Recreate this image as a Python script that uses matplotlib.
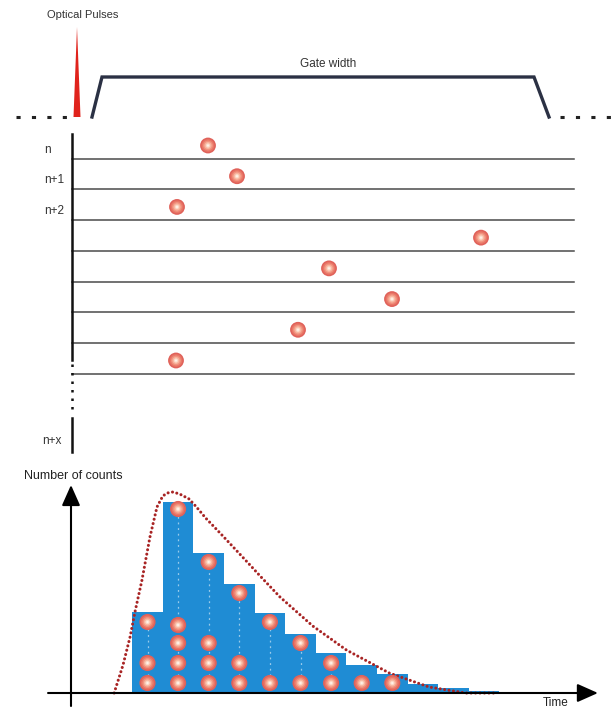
import numpy as np
import matplotlib
matplotlib.use('Agg')
import matplotlib.pyplot as plt

plt.rcParams['font.family'] = ['Liberation Sans', 'DejaVu Sans']

# --- top panel: laser pulse and detector gate (time in a.u., amplitude in a.u.)
pulse_time = 77
pulse_height = 2.25
pulse_halfwidth = 3.5
gate_time = [92, 102, 534, 549]
gate_level = [0, 1, 1, 0]
dash_left = [16, 67]
dash_right = [560, 614]

# --- middle panel: one detected photon per excitation period
period_labels = ['n', 'n+1', 'n+2']
photon_times = [208, 237, 177, 481, 329, 392, 298, 176]
n_periods = len(photon_times)

# --- bottom panel: histogram of arrival times
bin_start = 2
counts = [4.05, 9.55, 7.0, 5.45, 4.0, 2.95, 2.0, 1.4, 0.95, 0.45, 0.25, 0.1]
# photons drawn inside the bars (bin index, level)
dot_bin = [0, 0, 0, 1, 1, 1, 1, 1, 2, 2, 2, 2, 3, 3, 3, 4, 4, 5, 5, 6, 6, 7, 8]
dot_level = [0.5, 1.5, 3.55, 0.5, 1.5, 2.5, 3.4, 9.2, 0.5, 1.5, 2.5, 6.55,
             0.5, 1.5, 5.0, 0.5, 3.55, 0.5, 2.5, 0.5, 1.5, 0.5, 0.5]
# decay curve
curve_t = [1.41, 1.7, 1.93, 2.09, 2.32, 2.58, 2.81, 3.0, 3.15, 3.33, 3.55, 3.86,
           4.1, 4.4, 4.87, 5.3, 5.88, 6.18, 6.83, 7.9, 9.0, 10.4, 11.7, 12.9, 13.9]
curve_c = [0.0, 1.4, 2.8, 4.05, 5.65, 7.8, 9.3, 9.85, 10.0, 10.05, 9.95, 9.7,
           9.3, 8.75, 8.0, 7.3, 6.35, 5.85, 4.8, 3.35, 2.15, 1.0, 0.3, 0.0, 0.0]

photon_layers = [(1.0, '#e0625a'), (0.8, '#e97767'), (0.62, '#f1937f'),
                 (0.45, '#f8b59e'), (0.28, '#fcd9c6'), (0.14, '#fff1e8')]


def photon(ax, x, y, size=120):
    for frac, col in photon_layers:
        ax.scatter(x, y, s=size * frac**2, color=col, edgecolors='none', zorder=5)


fig = plt.figure(figsize=(6.16, 7.08), dpi=100)

# top
ax1 = fig.add_axes([0, 578 / 708, 1, 130 / 708])
ax1.set_xlim(0, 616)
ax1.set_ylim(-0.325, 2.925)
ax1.axis('off')
ax1.fill([pulse_time - pulse_halfwidth, pulse_time, pulse_time + pulse_halfwidth],
         [0, pulse_height, 0], color='#e0231c', lw=0)
ax1.plot(gate_time, gate_level, color='#2b3144', lw=2.4, solid_joinstyle='miter')
for seg in (dash_left, dash_right):
    ax1.plot(seg, [0, 0], color='#222222', lw=2.2, linestyle=(0, (1.35, 3.7)))
ax1.text(83, 2.55, 'Optical Pulses', ha='center', va='center', fontsize=8, color='#333333')
ax1.text(328, 1.33, 'Gate width', ha='center', va='center', fontsize=8.5, color='#333333')

# middle
ax2 = fig.add_axes([0, 248 / 708, 1, 330 / 708])
ax2.set_xlim(0, 616)
ax2.set_ylim(10.81, 0.065)
ax2.axis('off')
for k in range(n_periods):
    ax2.plot([72, 574], [k + 1, k + 1], color='#4a4a4a', lw=1.1)
photon(ax2, photon_times, np.arange(n_periods) + 0.57, size=130)
ax2.plot([72, 72], [0.2, 7.55], color='#111111', lw=1.8)
ax2.plot([72, 72], [7.7, 9.25], color='#111111', lw=1.8, linestyle=(0, (1.0, 2.4)))
ax2.plot([72, 72], [9.45, 10.55], color='#111111', lw=1.8)
for k, lab in enumerate(period_labels):
    ax2.text(44, k + 0.7, lab, ha='left', va='center', fontsize=8.5, color='#333333')
ax2.text(42, 10.2, 'n+x', ha='left', va='center', fontsize=8.5, color='#333333')

# bottom
ax3 = fig.add_axes([0, 0, 1, 248 / 708])
ax3.set_xlim(-71 / 30.6, 545 / 30.6)
ax3.set_ylim(-0.75, 11.65)
ax3.axis('off')
edges = bin_start + np.arange(len(counts))
ax3.bar(edges, counts, width=1.0, align='edge', color='#1f8cd4', lw=0, zorder=2)
dx = np.array(dot_bin) + bin_start + 0.5
dy = np.array(dot_level)
for b in sorted(set(dot_bin)):
    top = max(l for i, l in zip(dot_bin, dot_level) if i == b)
    ax3.plot([b + bin_start + 0.5] * 2, [0.3, top], color='white', alpha=0.55,
             lw=0.9, linestyle=(0, (1.5, 3)), zorder=3)
photon(ax3, dx, dy, size=135)
ax3.plot(curve_t, curve_c, color='#a82424', lw=2.2, linestyle=(0, (0.01, 1.45)),
         dash_capstyle='round', zorder=4)
ax3.annotate('', xy=(17.22, 0), xytext=(-0.75, 0),
             arrowprops=dict(arrowstyle='-|>,head_length=0.9,head_width=0.4',
                             lw=1.5, color='black', shrinkA=0, shrinkB=0,
                             mutation_scale=14), zorder=6)
ax3.annotate('', xy=(0, 10.4), xytext=(0, -0.65),
             arrowprops=dict(arrowstyle='-|>,head_length=0.9,head_width=0.4',
                             lw=1.5, color='black', shrinkA=0, shrinkB=0,
                             mutation_scale=14), zorder=6)
ax3.text(-1.55, 10.85, 'Number of counts', ha='left', va='center', fontsize=9, color='#222222')
ax3.text(15.85, -0.5, 'Time', ha='center', va='center', fontsize=8.5, color='#222222')

fig.savefig('out.png', dpi=100)
